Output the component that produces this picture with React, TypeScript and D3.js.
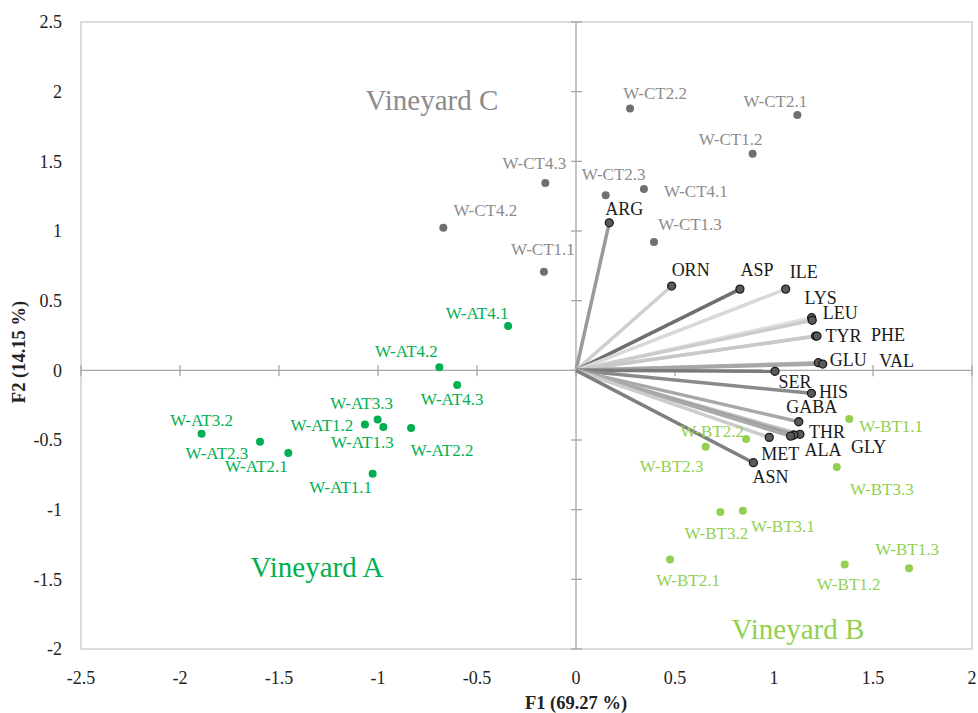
import React, { useEffect, useRef } from "react";
import * as d3 from "d3";

// sample scores, vineyard A
const vineyardALabels = ["W-AT4.1", "W-AT4.2", "W-AT4.3", "W-AT3.3", "W-AT1.2", "W-AT1.3", "W-AT2.2", "W-AT3.2", "W-AT2.3", "W-AT2.1", "W-AT1.1"];
const vineyardAF1 = [-0.343, -0.69, -0.6, -1.002, -1.066, -0.973, -0.833, -1.891, -1.596, -1.453, -1.027];
const vineyardAF2 = [0.318, 0.022, -0.105, -0.352, -0.388, -0.407, -0.414, -0.455, -0.512, -0.594, -0.742];

// vineyard B
const vineyardBLabels = ["W-BT2.2", "W-BT2.3", "W-BT1.1", "W-BT3.3", "W-BT3.2", "W-BT3.1", "W-BT2.1", "W-BT1.2", "W-BT1.3"];
const vineyardBF1 = [0.859, 0.655, 1.38, 1.317, 0.729, 0.843, 0.475, 1.357, 1.682];
const vineyardBF2 = [-0.493, -0.548, -0.35, -0.694, -1.017, -1.008, -1.357, -1.393, -1.421];

// vineyard C
const vineyardCLabels = ["W-CT2.2", "W-CT2.1", "W-CT1.2", "W-CT4.3", "W-CT2.3", "W-CT4.1", "W-CT4.2", "W-CT1.3", "W-CT1.1"];
const vineyardCF1 = [0.273, 1.118, 0.892, -0.155, 0.15, 0.343, -0.67, 0.394, -0.162];
const vineyardCF2 = [1.88, 1.832, 1.555, 1.344, 1.256, 1.301, 1.024, 0.921, 0.708];

// variable loadings
const variableLabels = ["ARG", "ORN", "ASP", "ILE", "LYS", "LEU", "TYR", "PHE", "GLU", "VAL", "SER", "HIS", "GABA", "THR", "ALA", "GLY", "MET", "ASN"];
const variableF1 = [0.168, 0.483, 0.828, 1.059, 1.19, 1.193, 1.21, 1.217, 1.224, 1.246, 1.005, 1.189, 1.125, 1.131, 1.101, 1.084, 0.976, 0.896];
const variableF2 = [1.059, 0.605, 0.583, 0.583, 0.378, 0.359, 0.246, 0.246, 0.055, 0.045, -0.007, -0.165, -0.369, -0.459, -0.464, -0.472, -0.481, -0.663];

const xTicks = [-2.5, -2, -1.5, -1, -0.5, 0, 0.5, 1, 1.5, 2];
const yTicks = [-2, -1.5, -1, -0.5, 0, 0.5, 1, 1.5, 2, 2.5];

// label placement (pixel offsets from the marker)
const offsetsA = [[-31, -13], [-33, -16], [-5, 14], [-16, -16], [-43, 1], [-21, 15], [31, 22], [0, -14], [-43, 11], [-32, 13], [-32, 13]];
const offsetsB = [[-34, -8], [-34, 19], [42, 7], [45, 22], [-4, 21], [40, 15], [18, 21], [4, 20], [-2, -19]];
const offsetsC = [[25, -15], [-22, -14], [-22, -15], [-11, -20], [8, -21], [52, 2], [42, -18], [36, -18], [-1, -23]];
const offsetsVar = [[15, -14], [19, -16], [17, -19], [18, -17], [9, -20], [28, -8], [28, 0], [71, -1], [30, -3], [74, -3], [20, 10], [22, -2], [13, -15], [27, -3], [29, 15], [78, 11], [11, 16], [17, 14]];
const vectorShades = ["#9a9a9a", "#cfcfcf", "#6f6f6f", "#d9d9d9", "#e0e0e0", "#cccccc", "#d9d9d9", "#c8c8c8", "#b0b0b0", "#a6a6a6", "#7a7a7a", "#8a8a8a", "#a8a8a8", "#bdbdbd", "#9c9c9c", "#aaaaaa", "#cccccc", "#7f7f7f"];

const FONT = "'Liberation Serif', 'Times New Roman', serif";

function App() {
  const chartRef = useRef<SVGSVGElement>(null);

  function drawChart() {
    const width = 978;
    const height = 713;
    const margin = { top: 22, right: 6, bottom: 64, left: 81 };

    const x = d3.scaleLinear().domain([-2.5, 2]).range([margin.left, width - margin.right]);
    const y = d3.scaleLinear().domain([-2, 2.5]).range([height - margin.bottom, margin.top]);

    const svg = d3.select(chartRef.current);
    svg.selectAll("*").remove();

    // frame
    svg
      .append("rect")
      .attr("x", x(-2.5))
      .attr("y", y(2.5))
      .attr("width", x(2) - x(-2.5))
      .attr("height", y(-2) - y(2.5))
      .attr("fill", "none")
      .attr("stroke", "#d0d0d0")
      .attr("stroke-width", 1.5);

    // zero axes with crossing ticks
    const zero = svg.append("g").attr("stroke", "#a6a6a6").attr("stroke-width", 1.3);
    zero.append("line").attr("x1", x(-2.5)).attr("x2", x(2)).attr("y1", y(0)).attr("y2", y(0));
    zero.append("line").attr("x1", x(0)).attr("x2", x(0)).attr("y1", y(2.5)).attr("y2", y(-2));
    zero
      .selectAll(".yt")
      .data(yTicks)
      .enter()
      .append("line")
      .attr("x1", x(0) - 5)
      .attr("x2", x(0) + 6)
      .attr("y1", (d) => y(d))
      .attr("y2", (d) => y(d));
    zero
      .selectAll(".xt")
      .data(xTicks)
      .enter()
      .append("line")
      .attr("x1", (d) => x(d))
      .attr("x2", (d) => x(d))
      .attr("y1", y(0) - 5)
      .attr("y2", y(0) + 6);

    // tick labels
    svg
      .append("g")
      .selectAll("text")
      .data(yTicks)
      .enter()
      .append("text")
      .attr("x", 62)
      .attr("y", (d) => y(d))
      .attr("dy", "0.35em")
      .attr("text-anchor", "end")
      .style("font-family", FONT)
      .style("font-size", "18px")
      .attr("fill", "#222")
      .text((d) => String(d));

    svg
      .append("g")
      .selectAll("text")
      .data(xTicks)
      .enter()
      .append("text")
      .attr("x", (d) => x(d))
      .attr("y", 678)
      .attr("dy", "0.35em")
      .attr("text-anchor", "middle")
      .style("font-family", FONT)
      .style("font-size", "18px")
      .attr("fill", "#222")
      .text((d) => String(d));

    // axis titles
    svg
      .append("text")
      .attr("x", x(0))
      .attr("y", 703)
      .attr("dy", "0.35em")
      .attr("text-anchor", "middle")
      .style("font-family", FONT)
      .style("font-size", "18.5px")
      .style("font-weight", "bold")
      .attr("fill", "#222")
      .text("F1 (69.27 %)");

    svg
      .append("text")
      .attr("transform", "translate(19," + 352 + ") rotate(-90)")
      .attr("dy", "0.35em")
      .attr("text-anchor", "middle")
      .style("font-family", FONT)
      .style("font-size", "18.5px")
      .style("font-weight", "bold")
      .attr("fill", "#222")
      .text("F2 (14.15 %)");

    // loading vectors
    const vars = variableLabels.map((name, i) => ({
      name,
      f1: variableF1[i],
      f2: variableF2[i],
      shade: vectorShades[i],
      off: offsetsVar[i],
    }));

    svg
      .append("g")
      .selectAll("line")
      .data(vars)
      .enter()
      .append("line")
      .attr("x1", x(0))
      .attr("y1", y(0))
      .attr("x2", (d) => x(d.f1))
      .attr("y2", (d) => y(d.f2))
      .attr("stroke", (d) => d.shade)
      .attr("stroke-width", 3.5);

    // sample groups
    const groups = [
      { labels: vineyardALabels, f1: vineyardAF1, f2: vineyardAF2, offs: offsetsA, dot: "#00b050", text: "#00b050" },
      { labels: vineyardBLabels, f1: vineyardBF1, f2: vineyardBF2, offs: offsetsB, dot: "#92d050", text: "#92d050" },
      { labels: vineyardCLabels, f1: vineyardCF1, f2: vineyardCF2, offs: offsetsC, dot: "#707070", text: "#8c8c8c" },
    ];

    groups.forEach((grp) => {
      const pts = grp.labels.map((name, i) => ({ name, f1: grp.f1[i], f2: grp.f2[i], off: grp.offs[i] }));
      const g = svg.append("g");
      g.selectAll("circle")
        .data(pts)
        .enter()
        .append("circle")
        .attr("cx", (d) => x(d.f1))
        .attr("cy", (d) => y(d.f2))
        .attr("r", 4)
        .attr("fill", grp.dot);
      g.selectAll("text")
        .data(pts)
        .enter()
        .append("text")
        .attr("x", (d) => x(d.f1) + d.off[0])
        .attr("y", (d) => y(d.f2) + d.off[1])
        .attr("dy", "0.35em")
        .attr("text-anchor", "middle")
        .style("font-family", FONT)
        .style("font-size", "17px")
        .attr("fill", grp.text)
        .text((d) => d.name);
    });

    // vector end points and labels
    const vg = svg.append("g");
    vg.selectAll("circle")
      .data(vars)
      .enter()
      .append("circle")
      .attr("cx", (d) => x(d.f1))
      .attr("cy", (d) => y(d.f2))
      .attr("r", 4)
      .attr("fill", "#5a5a5a")
      .attr("stroke", "#1a1a1a")
      .attr("stroke-width", 1.3);
    vg.selectAll("text")
      .data(vars)
      .enter()
      .append("text")
      .attr("x", (d) => x(d.f1) + d.off[0])
      .attr("y", (d) => y(d.f2) + d.off[1])
      .attr("dy", "0.35em")
      .attr("text-anchor", "middle")
      .style("font-family", FONT)
      .style("font-size", "18px")
      .attr("fill", "#1a1a1a")
      .text((d) => d.name);

    // vineyard titles
    const titles = [
      { text: "Vineyard A", px: 317, py: 567, color: "#00b050" },
      { text: "Vineyard B", px: 798, py: 629, color: "#92d050" },
      { text: "Vineyard C", px: 432, py: 100, color: "#8c8c8c" },
    ];
    svg
      .append("g")
      .selectAll("text")
      .data(titles)
      .enter()
      .append("text")
      .attr("x", (d) => d.px)
      .attr("y", (d) => d.py)
      .attr("dy", "0.35em")
      .attr("text-anchor", "middle")
      .style("font-family", FONT)
      .style("font-size", "29px")
      .attr("fill", (d) => d.color)
      .text((d) => d.text);
  }

  useEffect(() => {
    drawChart();
  }, []);

  return (
    <svg
      ref={chartRef}
      width={978}
      height={713}
      style={{ position: "absolute", left: 0, top: 0, background: "#fff" }}
    ></svg>
  );
}

export default App;
